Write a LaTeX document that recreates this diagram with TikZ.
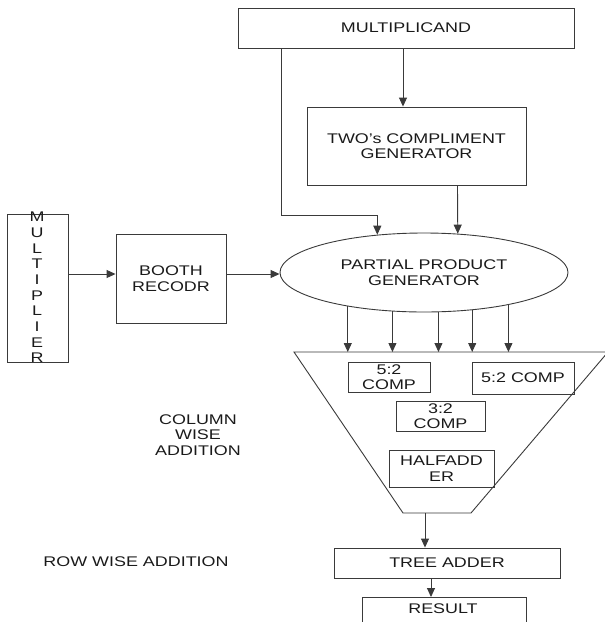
\documentclass[tikz,border=0pt]{standalone}
\usepackage{fontspec}
\setmainfont{Liberation Sans}[FakeStretch=1.28]
\usetikzlibrary{shapes.geometric,arrows.meta}
\definecolor{lncol}{HTML}{3A3A3A}
\definecolor{txcol}{HTML}{1A1A1A}
\begin{document}
\begin{tikzpicture}[x=1pt,y=-1pt,
  every node/.style={font=\fontsize{14}{15.5}\selectfont, text=txcol},
  box/.style={draw=lncol, line width=0.9pt, rectangle, inner sep=0pt, align=center},
  wire/.style={draw=lncol, line width=0.9pt},
  arr/.style={draw=lncol, line width=0.9pt, -{Triangle[length=9pt,width=8pt]}},
  lbl/.style={inner sep=0pt, align=center}]
\useasboundingbox (0,0) rectangle (605,622);

% top blocks
\node[box, minimum width=336, minimum height=40] (mc) at (406,28) {MULTIPLICAND};
\node[box, minimum width=219, minimum height=78] (two) at (416.5,146) {TWO's COMPLIMENT\\GENERATOR};
\node[draw=lncol, line width=0.9pt, ellipse, minimum width=288, minimum height=79,
      inner sep=0pt, align=center] (pp) at (424,272.5) {PARTIAL PRODUCT\\GENERATOR};

% left blocks
\node[box, minimum width=61, minimum height=148] (mult) at (37.5,288) {};
\node[lbl, font=\fontsize{14}{15.67}\selectfont] (multtxt) at (37,287.5) {M\\U\\L\\T\\I\\P\\L\\I\\E\\R};
\node[box, minimum width=110, minimum height=89] (booth) at (171,278.5) {BOOTH\\RECODR};

% trapezoid
\coordinate (tzTL) at (294,352);
\coordinate (tzTR) at (608,352);
\coordinate (tzBR) at (471,513);
\coordinate (tzBL) at (403,513);
\draw[wire] (tzTL) -- (tzTR) -- (tzBR) -- (tzBL) -- cycle;

\node[box, minimum width=82, minimum height=30] (c52a) at (389,377) {5:2\\COMP};
\node[box, minimum width=102, minimum height=32] (c52b) at (523,378) {5:2 COMP};
\node[box, minimum width=89, minimum height=30] (c32) at (440.5,416) {3:2\\COMP};
\node[box, minimum width=105, minimum height=37] (ha) at (441.5,468.5) {HALFADD\\ER};

% bottom blocks
\node[box, minimum width=226, minimum height=30] (tree) at (447,563) {TREE ADDER};
\node[box, minimum width=164, minimum height=40, anchor=north] (res) at (444,597) {};
\node[lbl] (restxt) at (443,609) {RESULT};

% side labels
\node[lbl] (colw) at (198,435) {COLUMN\\WISE\\ADDITION};
\node[lbl] (roww) at (136,562) {ROW WISE ADDITION};

% connectors
\draw[arr] ([xshift=-3pt]mc.south) -- ([xshift=-13.5pt]two.north);
\draw[arr] ([xshift=-125pt]mc.south) -- ++(0,167) -| (pp.141);
\draw[arr] ([xshift=41pt]two.south) -- (pp.49);
\draw[arr] ([yshift=14pt]mult.east) -- ([yshift=4.5pt]booth.west);
\draw[arr] ([yshift=4.5pt]booth.east) -- ([yshift=-1.5pt]pp.west);
\foreach \a in {204,231,290,322,339}
  \draw[arr] (pp.\a) -- (pp.\a |- tzTL);
\coordinate (tzout) at (425,513);
\draw[arr] (tzout) -- (tzout |- tree.north);
\draw[arr] ([xshift=-16pt]tree.south) -- ([xshift=-13pt]res.north);
\end{tikzpicture}
\end{document}
